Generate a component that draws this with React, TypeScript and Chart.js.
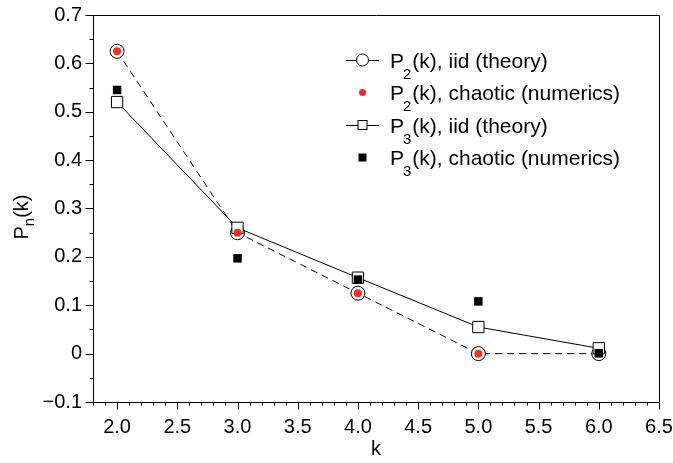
import React, { useEffect, useRef } from "react";
import { Chart, registerables } from "chart.js";

Chart.register(...registerables);

const FONT = '"Liberation Sans", Arial, Helvetica, sans-serif';

// ---- data ----
const kValues = [2, 3, 4, 5, 6];
const p2Theory = [0.625, 0.25, 0.125, 0, 0];
const p2Chaotic = [0.625, 0.25, 0.125, 0, 0];
const p3Theory = [0.52, 0.26, 0.157, 0.055, 0.011];
const p3Chaotic = [0.545, 0.197, 0.153, 0.108, 0.001];

const xTicks = [2.0, 2.5, 3.0, 3.5, 4.0, 4.5, 5.0, 5.5, 6.0, 6.5];
const yTicks = [-0.1, 0, 0.1, 0.2, 0.3, 0.4, 0.5, 0.6, 0.7];
const xMin = 1.8;
const xMax = 6.5;
const yMin = -0.1;
const yMax = 0.7;

const seriesMain = ["P", "P", "P", "P"];
const seriesSub = ["2", "2", "3", "3"];
const seriesRest = [
  "(k), iid (theory)",
  "(k), chaotic (numerics)",
  "(k), iid (theory)",
  "(k), chaotic (numerics)",
];
const xTitle = "k";
const yTitleMain = "P";
const yTitleSub = "n";
const yTitleRest = "(k)";

const RED = "#ea3323";

const toXY = (ys: number[]) => kValues.map((x, i) => ({ x, y: ys[i] }));

const decor = {
  id: "decor",
  afterDraw(chart: any) {
    const ctx = chart.ctx as CanvasRenderingContext2D;
    const { left, right, top, bottom } = chart.chartArea;
    const xs = chart.scales.x;
    const ys = chart.scales.y;
    ctx.save();
    ctx.strokeStyle = "#000";
    ctx.lineWidth = 1;
    // frame
    const L = Math.round(left) + 0.5;
    const R = Math.round(right) + 0.5;
    const T = Math.round(top) + 0.5;
    const B = Math.round(bottom) + 0.5;
    ctx.beginPath();
    ctx.rect(L, T, R - L, B - T);
    ctx.stroke();
    // x ticks (outward, down)
    ctx.beginPath();
    for (let i = 0; i <= Math.round((xMax - xMin) * 10); i++) {
      const v = xMin + i / 10;
      const px = Math.round(xs.getPixelForValue(v)) + 0.5;
      const major = Math.abs(v * 2 - Math.round(v * 2)) < 1e-6;
      ctx.moveTo(px, B);
      ctx.lineTo(px, B + (major ? 7 : 3));
    }
    // y ticks (outward, left)
    for (let i = 0; i <= Math.round((yMax - yMin) * 20); i++) {
      const v = yMin + i / 20;
      const py = Math.round(ys.getPixelForValue(v)) + 0.5;
      const major = i % 2 === 0;
      ctx.moveTo(L, py);
      ctx.lineTo(L - (major ? 8 : 4), py);
    }
    ctx.stroke();

    // titles
    ctx.fillStyle = "#000";
    ctx.font = `20px ${FONT}`;
    ctx.textAlign = "center";
    ctx.textBaseline = "alphabetic";
    ctx.fillText(xTitle, (left + right) / 2, 455);

    // y title rotated
    ctx.save();
    ctx.translate(28, 217);
    ctx.rotate(-Math.PI / 2);
    ctx.textAlign = "left";
    ctx.font = `20px ${FONT}`;
    const wP = ctx.measureText(yTitleMain).width;
    ctx.font = `15px ${FONT}`;
    const wn = ctx.measureText(yTitleSub).width;
    ctx.font = `20px ${FONT}`;
    const wR = ctx.measureText(yTitleRest).width;
    const total = wP + wn + wR;
    let cx = -total / 2;
    ctx.fillText(yTitleMain, cx, 0);
    cx += wP;
    ctx.font = `15px ${FONT}`;
    ctx.fillText(yTitleSub, cx, 6);
    cx += wn;
    ctx.font = `20px ${FONT}`;
    ctx.fillText(yTitleRest, cx, 0);
    ctx.restore();

    // legend
    const baselines = [67.5, 100, 132.5, 165];
    const symX = 362.5;
    const textX = 390;
    for (let i = 0; i < 4; i++) {
      const bl = baselines[i];
      const cy = bl - 7.5;
      ctx.lineWidth = 1;
      ctx.strokeStyle = "#000";
      if (i === 0 || i === 2) {
        ctx.beginPath();
        ctx.moveTo(346, Math.round(cy) + 0.5);
        ctx.lineTo(379, Math.round(cy) + 0.5);
        ctx.stroke();
      }
      if (i === 0) {
        ctx.beginPath();
        ctx.arc(symX, cy, 6, 0, Math.PI * 2);
        ctx.fillStyle = "#fff";
        ctx.fill();
        ctx.stroke();
      } else if (i === 1) {
        ctx.beginPath();
        ctx.arc(symX, cy, 3.5, 0, Math.PI * 2);
        ctx.fillStyle = RED;
        ctx.fill();
      } else if (i === 2) {
        ctx.fillStyle = "#fff";
        ctx.fillRect(symX - 4.5, cy - 4.5, 9, 9);
        ctx.strokeRect(symX - 4.5, cy - 4.5, 9, 9);
      } else {
        ctx.fillStyle = "#000";
        ctx.fillRect(symX - 4, cy - 4, 8, 8);
      }
      ctx.fillStyle = "#000";
      ctx.textAlign = "left";
      let tx = textX;
      ctx.font = `21px ${FONT}`;
      ctx.fillText(seriesMain[i], tx, bl);
      tx += ctx.measureText(seriesMain[i]).width - 1;
      ctx.font = `15px ${FONT}`;
      ctx.fillText(seriesSub[i], tx, bl + 11);
      tx += ctx.measureText(seriesSub[i]).width + 1;
      ctx.font = `21px ${FONT}`;
      ctx.fillText(seriesRest[i], tx, bl);
    }
    ctx.restore();
  },
};

export default function App() {
  const ref = useRef<HTMLCanvasElement>(null);
  useEffect(() => {
    document.body.style.margin = "0";
    const chart = new Chart(ref.current as HTMLCanvasElement, {
      type: "scatter",
      data: {
        datasets: [
          {
            label: "P2(k), iid (theory)",
            data: toXY(p2Theory),
            showLine: true,
            borderColor: "#000",
            borderWidth: 1,
            borderDash: [7, 5],
            pointStyle: "circle",
            pointRadius: 7,
            pointBackgroundColor: "#fff",
            pointBorderColor: "#000",
            pointBorderWidth: 1,
            order: 3,
          },
          {
            label: "P2(k), chaotic (numerics)",
            data: toXY(p2Chaotic),
            showLine: false,
            pointStyle: "circle",
            pointRadius: 4,
            pointBackgroundColor: RED,
            pointBorderColor: RED,
            pointBorderWidth: 0,
            order: 1,
          },
          {
            label: "P3(k), iid (theory)",
            data: toXY(p3Theory),
            showLine: true,
            borderColor: "#000",
            borderWidth: 1,
            pointStyle: "rect",
            pointRadius: 8,
            pointBackgroundColor: "#fff",
            pointBorderColor: "#000",
            pointBorderWidth: 1,
            order: 2,
          },
          {
            label: "P3(k), chaotic (numerics)",
            data: toXY(p3Chaotic),
            showLine: false,
            pointStyle: "rect",
            pointRadius: 6,
            pointBackgroundColor: "#000",
            pointBorderColor: "#000",
            pointBorderWidth: 0,
            order: 0,
          },
        ],
      },
      options: {
        responsive: false,
        animation: false,
        devicePixelRatio: 1,
        layout: { padding: { top: 15, right: 14, left: 0, bottom: 0 } },
        plugins: {
          legend: { display: false },
          tooltip: { enabled: false },
        },
        scales: {
          x: {
            type: "linear",
            min: xMin,
            max: xMax,
            grid: { display: false, drawTicks: false },
            border: { display: false },
            afterBuildTicks: (s: any) => {
              s.ticks = xTicks.map((value) => ({ value }));
            },
            afterFit: (s: any) => {
              s.height = 61;
              s.paddingLeft = 0;
              s.paddingRight = 0;
            },
            ticks: {
              color: "#000",
              font: { family: FONT, size: 20 },
              padding: 13,
              autoSkip: false,
              maxRotation: 0,
              callback: (v: any) => Number(v).toFixed(1),
            },
          },
          y: {
            type: "linear",
            min: yMin,
            max: yMax,
            grid: { display: false, drawTicks: false },
            border: { display: false },
            afterBuildTicks: (s: any) => {
              s.ticks = yTicks.map((value) => ({ value }));
            },
            afterFit: (s: any) => {
              s.width = 93;
              s.paddingTop = 0;
              s.paddingBottom = 0;
            },
            ticks: {
              color: "#000",
              font: { family: FONT, size: 20 },
              padding: 11,
              autoSkip: false,
              callback: (v: any) => {
                const n = Number(v);
                if (Math.abs(n) < 1e-9) return "0";
                if (n < 0) return "\u2212" + Math.abs(n).toFixed(1);
                return n.toFixed(1);
              },
            },
          },
        },
      },
      plugins: [decor],
    });
    return () => chart.destroy();
  }, []);
  return (
    <div style={{ width: 673, height: 463 }}>
      <canvas ref={ref} width={673} height={463} style={{ display: "block" }} />
    </div>
  );
}
